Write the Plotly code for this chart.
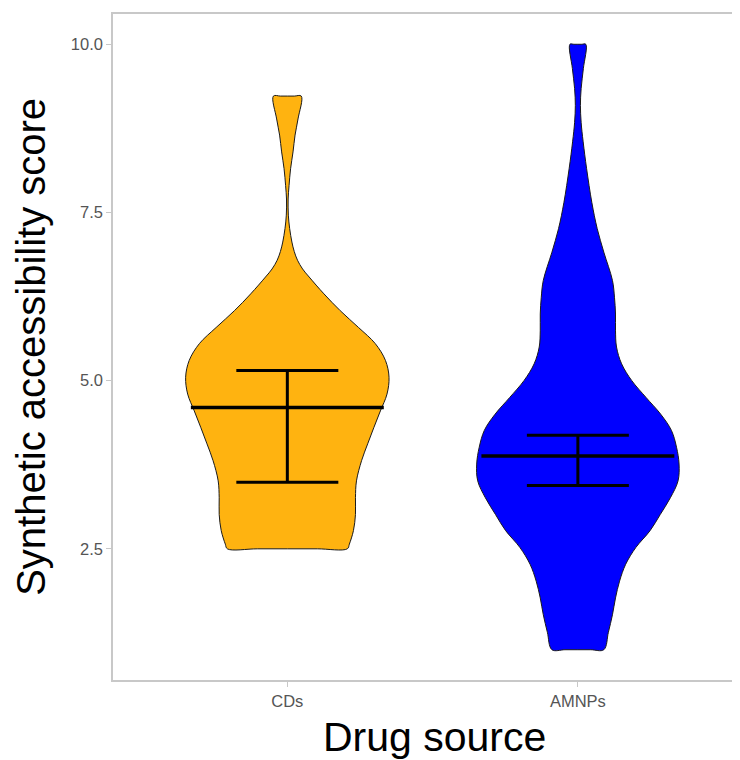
import plotly.graph_objects as go

# ---- data ----
groups = ["CDs", "AMNPs"]
colors = ["#FFB310", "#0000FF"]

# violin profiles: score levels and relative density (max = 1)
cds_y = [2.50, 2.57, 2.77, 3.01, 3.26, 3.51, 3.81, 4.06, 4.30, 4.55, 4.80, 5.05,
         5.30, 5.55, 5.79, 6.04, 6.29, 6.54, 6.66, 6.79, 6.92, 7.06, 7.26, 7.46,
         7.70, 7.90, 8.15, 8.40, 8.65, 8.89, 9.23]
cds_density = [0.59, 0.61, 0.65, 0.67, 0.67, 0.68, 0.73, 0.79, 0.85, 0.915, 0.98, 1.00,
               0.965, 0.865, 0.70, 0.52, 0.36, 0.215, 0.15, 0.10, 0.068, 0.045, 0.023, 0.010,
               0.008, 0.017, 0.032, 0.056, 0.076, 0.105, 0.137]

amnps_y = [1.00, 1.26, 1.52, 1.77, 2.02, 2.27, 2.52, 2.77, 3.01, 3.26, 3.51, 3.76,
           4.01, 4.26, 4.50, 4.75, 5.00, 5.25, 5.50, 5.74, 5.99, 6.24, 6.49, 6.91,
           7.26, 7.65, 8.15, 8.55, 8.84, 9.09, 9.34, 9.64, 10.00]
amnps_density = [0.255, 0.30, 0.34, 0.37, 0.41, 0.47, 0.57, 0.71, 0.81, 0.91, 0.985, 0.995,
                 0.97, 0.92, 0.815, 0.67, 0.53, 0.43, 0.38, 0.37, 0.37, 0.36, 0.34, 0.255,
                 0.19, 0.137, 0.086, 0.052, 0.032, 0.025, 0.032, 0.054, 0.078]

# summary statistics (centre line and error bar limits)
centre = [4.60, 3.88]
lower = [3.49, 3.44]
upper = [5.15, 4.19]

y_ticks = [2.5, 5.0, 7.5, 10.0]

# ---- styling ----
max_half = 0.35
crossbar_half = 0.332

profiles = [(cds_y, cds_density), (amnps_y, amnps_density)]
fig = go.Figure()

for i, (ys, ds) in enumerate(profiles):
    pos = i + 1
    w_bot = ds[0] * max_half
    w_top = ds[-1] * max_half
    # right side going up, flat top, left side going down, flat bottom
    xs = [pos + d * max_half for d in ds]
    yy = list(ys)
    xs += [pos + w_top * 0.5, pos, pos - w_top * 0.5]
    yy += [ys[-1]] * 3
    xs += [pos - d * max_half for d in reversed(ds)]
    yy += list(reversed(ys))
    xs += [pos - w_bot * 0.5, pos, pos + w_bot * 0.5, xs[0]]
    yy += [ys[0]] * 4
    fig.add_trace(go.Scatter(
        x=xs, y=yy, mode="lines", fill="toself", fillcolor=colors[i],
        line=dict(color="#1a1a1a", width=1, shape="spline", smoothing=1.0),
        hoverinfo="skip", showlegend=False))

for i in range(len(groups)):
    pos = i + 1
    # error bar
    fig.add_trace(go.Scatter(
        x=[pos], y=[centre[i]], mode="markers", marker=dict(size=0.1, color="black"),
        error_y=dict(type="data", symmetric=False,
                     array=[upper[i] - centre[i]], arrayminus=[centre[i] - lower[i]],
                     color="black", thickness=3, width=51),
        hoverinfo="skip", showlegend=False))
    # centre crossbar
    fig.add_trace(go.Scatter(
        x=[pos - crossbar_half, pos + crossbar_half], y=[centre[i], centre[i]],
        mode="lines", line=dict(color="black", width=3.5),
        hoverinfo="skip", showlegend=False))

axis_grey = "#C8C8C8"
fig.update_layout(
    width=732, height=752,
    margin=dict(l=105, r=0, t=6, b=80),
    paper_bgcolor="white", plot_bgcolor="white",
    font=dict(family="Liberation Sans, Arial, sans-serif"),
    xaxis=dict(range=[0.4, 2.558], tickvals=[1, 2], ticktext=groups,
               showgrid=False, zeroline=False,
               showline=True, linecolor=axis_grey, linewidth=1.5, mirror=True,
               ticks="outside", ticklen=5, tickcolor=axis_grey, tickwidth=1,
               tickfont=dict(size=16.5, color="#555555")),
    yaxis=dict(range=[0.55, 10.45], tickvals=y_ticks, tickformat=".1f",
               showgrid=False, zeroline=False,
               showline=True, linecolor=axis_grey, linewidth=1.5, mirror=False,
               ticks="outside", ticklen=5, tickcolor=axis_grey, tickwidth=1,
               tickfont=dict(size=16.5, color="#555555")),
    annotations=[
        dict(text="Drug source", xref="paper", yref="paper", x=0.512, y=-0.0855,
             xanchor="center", yanchor="middle", showarrow=False,
             font=dict(size=41, color="black")),
        dict(text="Synthetic accessibility score", xref="paper", yref="paper",
             x=-0.131, y=0.5, xanchor="center", yanchor="middle", textangle=-90,
             showarrow=False, font=dict(size=40, color="black")),
    ],
)

fig.write_html("out.html")
